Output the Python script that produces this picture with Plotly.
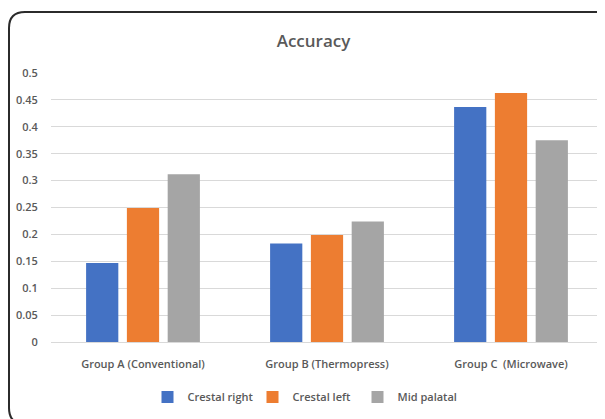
import plotly.graph_objects as go

categories = ["Group A (Conventional)", "Group B (Thermopress)", "Group C  (Microwave)"]
series_names = ["Crestal right", "Crestal left", "Mid palatal"]
crestal_right = [0.147, 0.183, 0.437]
crestal_left = [0.249, 0.199, 0.463]
mid_palatal = [0.312, 0.224, 0.375]
y_ticks = [0, 0.05, 0.1, 0.15, 0.2, 0.25, 0.3, 0.35, 0.4, 0.45, 0.5]
y_tick_labels = ["0", "0.05", "0.1", "0.15", "0.2", "0.25", "0.3", "0.35", "0.4", "0.45", "0.5"]

colors = ["#4472C4", "#ED7D31", "#A5A5A5"]
OFF = 8  # page body margin
W, H = 605 - OFF, 419 - OFF
ML, MR, MT, MB = 51 - OFF, 2, 73 - OFF, 77
PW, PH = W - ML - MR, H - MT - MB

FONT = "Open Sans"
TXT = "#595959"

fig = go.Figure()
for name, vals, c in zip(series_names, [crestal_right, crestal_left, mid_palatal], colors):
    fig.add_trace(go.Bar(x=categories, y=vals, name=name, marker=dict(color=c, line=dict(width=0))))


def px(x):  # screen pixel -> paper
    return (x - OFF - ML) / PW


def py(y):
    return (H - MB - (y - OFF)) / PH


# rounded border (extends past right & bottom edge like the reference)
L, T, R, B, r = 9, 12, 614, 424, 16
path = (
    f"M {px(L)},{py(T + r)} Q {px(L)},{py(T)} {px(L + r)},{py(T)} "
    f"L {px(R - r)},{py(T)} Q {px(R)},{py(T)} {px(R)},{py(T + r)} "
    f"L {px(R)},{py(B - r)} Q {px(R)},{py(B)} {px(R - r)},{py(B)} "
    f"L {px(L + r)},{py(B)} Q {px(L)},{py(B)} {px(L)},{py(B - r)} Z"
)

fig.update_layout(
    width=W, height=H,
    margin=dict(l=ML, r=MR, t=MT, b=MB),
    paper_bgcolor="white", plot_bgcolor="white",
    barmode="group", bargap=0.335, bargroupgap=0.21,
    title=dict(text="Accuracy", x=px(313.5), xref="paper", xanchor="center",
               y=1 - (41 - OFF) / H, yanchor="middle",
               font=dict(family=FONT, size=17, color=TXT, weight=600)),
    font=dict(family=FONT, color=TXT),
    showlegend=True,
    legend=dict(orientation="h", x=px(305), xanchor="center", y=py(397), yanchor="middle",
                font=dict(family=FONT, size=11, color=TXT, weight=600), itemwidth=30,
                entrywidth=60, entrywidthmode="pixels",
                traceorder="normal", bgcolor="rgba(0,0,0,0)"),
    shapes=[dict(type="path", path=path, xref="paper", yref="paper",
                 line=dict(color="#2b2b2b", width=2), fillcolor="rgba(0,0,0,0)", layer="above")],
    xaxis=dict(showgrid=False, showline=True, linecolor="#d9d9d9", linewidth=1,
               ticks="outside", ticklen=12, tickcolor="rgba(0,0,0,0)",
               tickfont=dict(family=FONT, size=11, color=TXT, weight=600)),
    yaxis=dict(range=[0, 0.5], tickvals=y_ticks, ticktext=y_tick_labels,
               showgrid=True, gridcolor="#d9d9d9", gridwidth=1, zeroline=False, showline=False,
               ticks="outside", ticklen=10, tickcolor="rgba(0,0,0,0)",
               tickfont=dict(family=FONT, size=11, color=TXT, weight=600)),
)

fig.write_html("out.html")
